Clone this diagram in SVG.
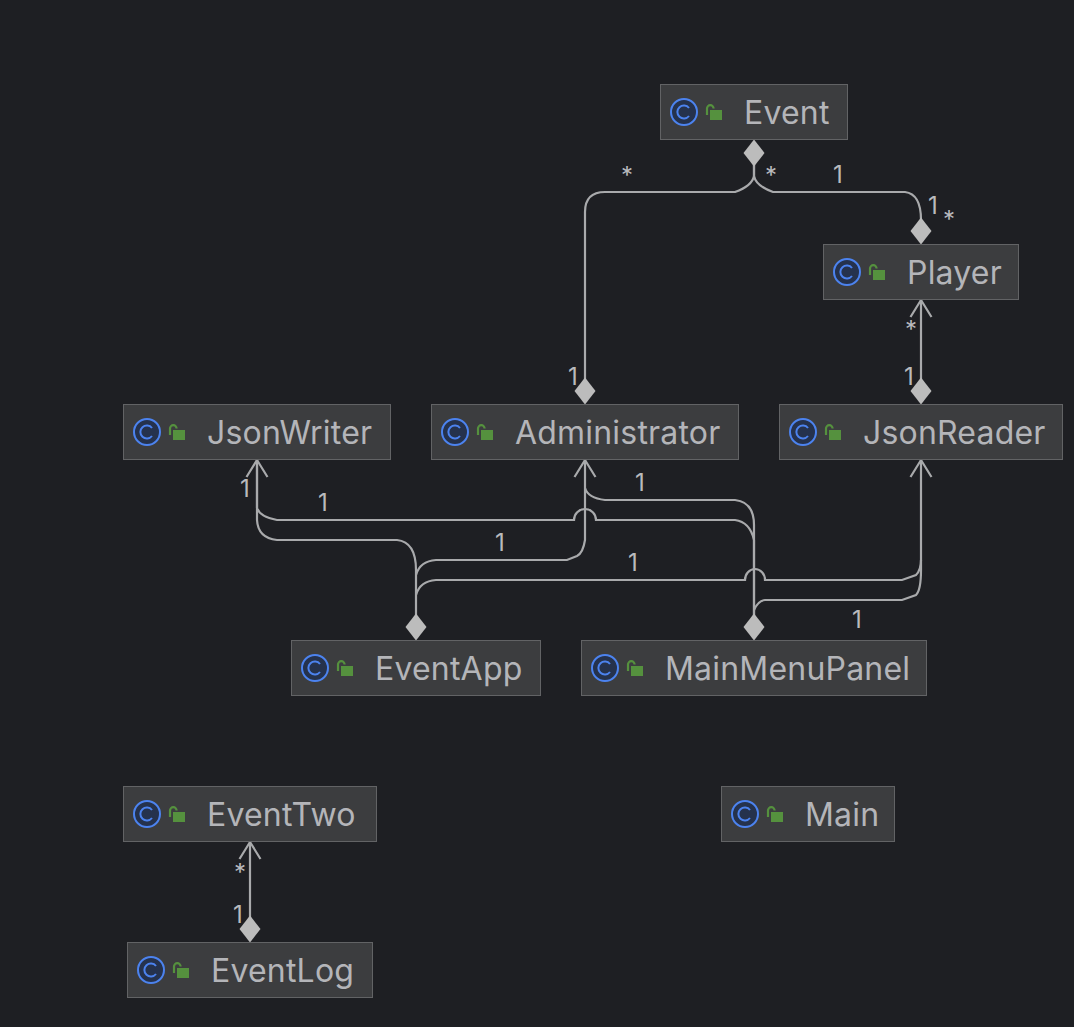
<svg xmlns="http://www.w3.org/2000/svg" xmlns:xlink="http://www.w3.org/1999/xlink" width="1074" height="1027" viewBox="0 0 1074 1027">
<style>
.box{fill:#3c3d3f;stroke:#626365;stroke-width:1}
.name{font-family:Inter,"Noto Sans",sans-serif;font-size:32px;fill:#b4b5b9;letter-spacing:.2px}
.lab{font-family:Inter,"Noto Sans",sans-serif;font-size:24px;fill:#b9babd;text-anchor:middle}
.star{font-family:Inter,"Noto Sans",sans-serif;font-size:24px;fill:#b9babd;text-anchor:middle}
.ln{fill:none;stroke:#a9aaac;stroke-width:2.200}
.dia{fill:#bcbcbc}
</style>
<defs>
<g id="icon">
<circle cx="0" cy="0" r="13" fill="#25324d" stroke="#4c83ef" stroke-width="2"/>
<path d="M5 -4A6.500 6.500 0 1 0 5 4" fill="none" stroke="#4c83ef" stroke-width="2"/>
<rect x="26" y="-2" width="12" height="10" fill="#55913e"/>
<path d="M23 3V-3.500A3.300 3.300 0 0 1 29.600 -3.500" fill="none" stroke="#55913e" stroke-width="2.200"/>
</g>
<path id="d" class="dia" d="M0 0L10.500 13.500L0 27L-10.500 13.500Z"/>
<path id="a" class="ln" d="M-10.500 17L0 0L10.500 17"/>
</defs>
<rect width="1074" height="1027" fill="#1e1f23"/>
<g id="connectors">
<path class="ln" d="M754 164V176Q752 186 735 192H605Q585 192 585 212V380"/>
<path class="ln" d="M754 164V176Q756 186 773 192H905Q921 194 921 220"/>
<path class="ln" d="M921 300V380"/>
<path class="ln" d="M257 460V508Q260 517 277 520H574A11 11 0 0 1 596 520H735Q750 522 754 540V616"/>
<path class="ln" d="M257 460V520Q258 538 277 540H397Q416 542 416 570V616"/>
<path class="ln" d="M585 460V540Q583 553 577 556L567 560H436Q420 561 416 575"/>
<path class="ln" d="M416 595Q420 581 436 580H745A10 11 0 0 1 765 580H902L916 575Q921 570 921 560"/>
<path class="ln" d="M585 488Q588 498 605 500H735Q754 502 754 525V616"/>
<path class="ln" d="M754 610Q758 601 765 600H902L916 595Q921 590 921 570V460"/>
<path class="ln" d="M250 842V918"/>
<use xlink:href="#d" x="754" y="139.500"/>
<use xlink:href="#d" x="921" y="217.500"/>
<use xlink:href="#d" x="585" y="377.500"/>
<use xlink:href="#d" x="921" y="377.500"/>
<use xlink:href="#d" x="416" y="613.500"/>
<use xlink:href="#d" x="754" y="613.500"/>
<use xlink:href="#d" x="250" y="915.500"/>
<use xlink:href="#a" x="921" y="300"/>
<use xlink:href="#a" x="257" y="460"/>
<use xlink:href="#a" x="585" y="460"/>
<use xlink:href="#a" x="921" y="460"/>
<use xlink:href="#a" x="250" y="842"/>
<text class="star" x="627" y="184">*</text>
<text class="star" x="771" y="184">*</text>
<text class="lab" x="838" y="183">1</text>
<text class="lab" x="933" y="214">1</text>
<text class="star" x="949" y="228">*</text>
<text class="star" x="911" y="338">*</text>
<text class="lab" x="909" y="385">1</text>
<text class="lab" x="573" y="385">1</text>
<text class="lab" x="245" y="497">1</text>
<text class="lab" x="323" y="511">1</text>
<text class="lab" x="500" y="551">1</text>
<text class="lab" x="640" y="491">1</text>
<text class="lab" x="633" y="571">1</text>
<text class="lab" x="857" y="628">1</text>
<text class="star" x="240" y="881">*</text>
<text class="lab" x="238" y="923">1</text>
</g>
<g id="Event"><rect class="box" x="660.500" y="84.500" width="187" height="55"/><use xlink:href="#icon" x="684" y="112"/><text class="name" x="744" y="124">Event</text></g>
<g id="Player"><rect class="box" x="823.500" y="244.500" width="195" height="55"/><use xlink:href="#icon" x="847" y="272"/><text class="name" x="907" y="284">Player</text></g>
<g id="JsonWriter"><rect class="box" x="123.500" y="404.500" width="267" height="55"/><use xlink:href="#icon" x="147" y="432"/><text class="name" x="207" y="444">JsonWriter</text></g>
<g id="Administrator"><rect class="box" x="431.500" y="404.500" width="307" height="55"/><use xlink:href="#icon" x="455" y="432"/><text class="name" x="515" y="444">Administrator</text></g>
<g id="JsonReader"><rect class="box" x="779.500" y="404.500" width="283" height="55"/><use xlink:href="#icon" x="803" y="432"/><text class="name" x="863" y="444">JsonReader</text></g>
<g id="EventApp"><rect class="box" x="291.500" y="640.500" width="249" height="55"/><use xlink:href="#icon" x="315" y="668"/><text class="name" x="375" y="680">EventApp</text></g>
<g id="MainMenuPanel"><rect class="box" x="581.500" y="640.500" width="345" height="55"/><use xlink:href="#icon" x="605" y="668"/><text class="name" x="665" y="680">MainMenuPanel</text></g>
<g id="EventTwo"><rect class="box" x="123.500" y="786.500" width="253" height="55"/><use xlink:href="#icon" x="147" y="814"/><text class="name" x="207" y="826">EventTwo</text></g>
<g id="Main"><rect class="box" x="721.500" y="786.500" width="173" height="55"/><use xlink:href="#icon" x="745" y="814"/><text class="name" x="805" y="826">Main</text></g>
<g id="EventLog"><rect class="box" x="127.500" y="942.500" width="245" height="55"/><use xlink:href="#icon" x="151" y="970"/><text class="name" x="211" y="982">EventLog</text></g>
</svg>
